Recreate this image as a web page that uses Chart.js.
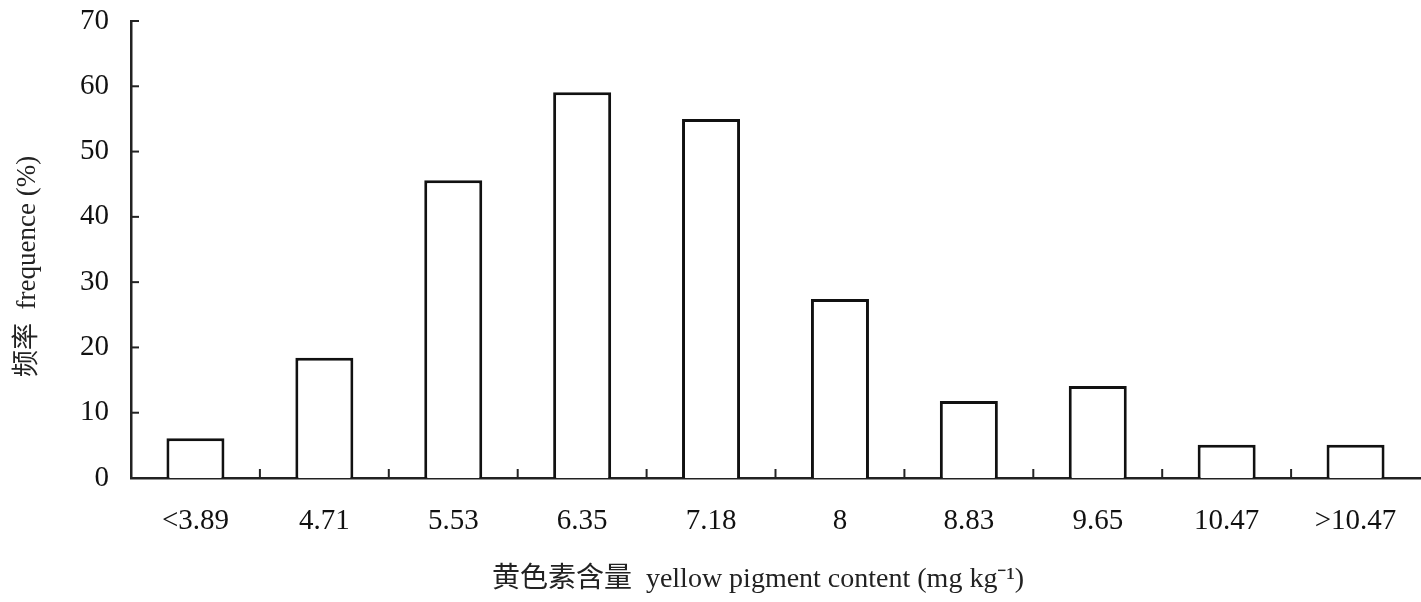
<!DOCTYPE html>
<html>
<head>
<meta charset="utf-8">
<script src="https://cdn.jsdelivr.net/npm/chart.js@4.4.1/dist/chart.umd.min.js"></script>
<style>
  html, body { margin: 0; padding: 0; background: #fff; }
  #wrap { width: 1421px; height: 602px; }
</style>
</head>
<body>
<div id="wrap"><canvas id="c" width="1421" height="602"></canvas></div>
<script>
const categories = ['<3.89', '4.71', '5.53', '6.35', '7.18', '8', '8.83', '9.65', '10.47', '>10.47'];
const frequency = [6.1, 18.4, 45.6, 59.1, 55.0, 27.4, 11.8, 14.1, 5.1, 5.1];
const yTicks = [0, 10, 20, 30, 40, 50, 60, 70];
const xTitle = '黄色素含量  yellow pigment content (mg kg⁻¹)\u2003 ';
const yTitle = '频率  frequence (%)\u2003 ';

const FONT = "'Liberation Serif', 'Noto Sans CJK SC', serif";

const innerTicks = {
  id: 'innerTicks',
  afterDatasetsDraw(chart) {
    const ctx = chart.ctx;
    const x = chart.scales.x, y = chart.scales.y;
    ctx.save();
    ctx.strokeStyle = '#222';
    ctx.lineWidth = 2;
    yTicks.forEach(v => {
      const py = y.getPixelForValue(v);
      ctx.beginPath();
      ctx.moveTo(x.left, py);
      ctx.lineTo(x.left + 8, py);
      ctx.stroke();
    });
    for (let i = 1; i < categories.length; i++) {
      const px = (x.getPixelForValue(i - 1) + x.getPixelForValue(i)) / 2;
      ctx.beginPath();
      ctx.moveTo(px, y.bottom);
      ctx.lineTo(px, y.bottom - 9);
      ctx.stroke();
    }
    ctx.restore();
  }
};

new Chart(document.getElementById('c'), {
  type: 'bar',
  data: {
    labels: categories,
    datasets: [{
      data: frequency,
      backgroundColor: '#fff',
      borderColor: '#111',
      borderWidth: 3,
      borderSkipped: 'bottom',
      barPercentage: 0.45,
      categoryPercentage: 1.0
    }]
  },
  options: {
    responsive: false,
    animation: false,
    devicePixelRatio: 1,
    layout: { padding: { top: 21, right: 1, bottom: 0, left: 0 } },
    plugins: { legend: { display: false }, tooltip: { enabled: false } },
    scales: {
      x: {
        grid: { display: false, drawTicks: false },
        border: { display: true, color: '#222', width: 2.5 },
        ticks: { color: '#111', font: { family: FONT, size: 29 }, padding: 26, maxRotation: 0, autoSkip: false },
        title: { display: true, text: xTitle, color: '#222', font: { family: FONT, size: 28 }, padding: { top: 0, bottom: 6 } },
        afterFit(s) { s.height = 124; s.paddingLeft = 0; s.paddingRight = 0; }
      },
      y: {
        min: 0, max: 70,
        afterBuildTicks(s) { s.ticks = yTicks.map(v => ({ value: v })); },
        grid: { display: false, drawTicks: false },
        border: { display: true, color: '#222', width: 2.5 },
        ticks: { color: '#111', font: { family: FONT, size: 29 }, padding: 22 },
        title: { display: true, text: yTitle, color: '#222', font: { family: FONT, size: 27 }, padding: { top: 12, bottom: 0 } },
        afterFit(s) { s.width = 131; s.paddingTop = 0; s.paddingBottom = 0; }
      }
    }
  },
  plugins: [innerTicks]
});
</script>
</body>
</html>
